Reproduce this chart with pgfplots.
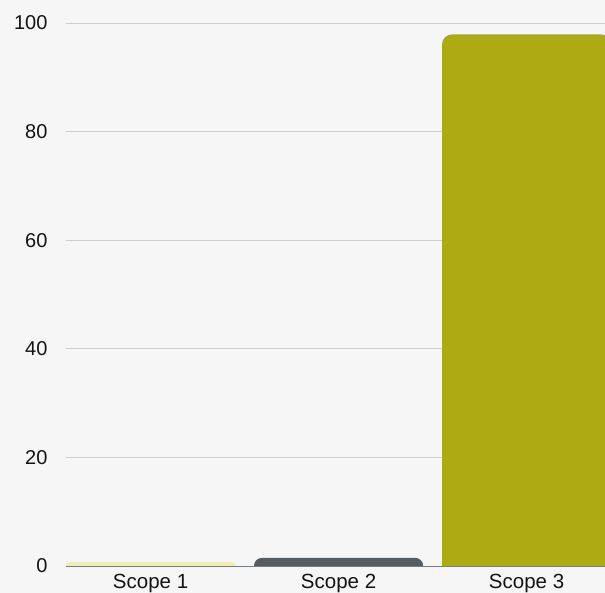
\documentclass[border=0pt]{standalone}
\usepackage{pgfplots}
\pgfplotsset{compat=1.18}
\usepackage{fontspec}
\setmainfont{Liberation Sans}
\definecolor{bgc}{HTML}{F6F6F6}
\definecolor{gridc}{HTML}{CDCDCD}
\definecolor{sone}{HTML}{EFEDB2}
\definecolor{stwo}{HTML}{555C62}
\definecolor{sthree}{HTML}{ADAA14}
\begin{document}
\begin{tikzpicture}
\fill[bgc] (-66pt,-27pt) rectangle (539pt,566pt);
\begin{axis}[
  at={(0,0)}, anchor=south west,
  scale only axis, width=539pt, height=543pt,
  xmin=-0.45, xmax=2.417, ymin=0, ymax=100,
  xtick={0,1,2}, xticklabels={Scope 1,Scope 2,Scope 3},
  ytick={20,40,60,80,100},
  extra y ticks={0},
  extra y tick style={grid style={color=stwo!80, line width=0.8pt}},
  ymajorgrids,
  grid style={color=gridc, line width=0.8pt},
  axis line style={draw=none},
  tick style={draw=none},
  ticklabel style={font=\fontsize{20}{24}\selectfont, text=black!92},
  /pgf/number format/assume math mode=true,
  yticklabel style={xshift=-15pt},
  xticklabel style={yshift=-4.5pt, font=\fontsize{20.5}{24}\selectfont},
  clip=true,
]
% bars: centre +/- 0.45, value on top; bottom runs below the axis and is clipped
\addplot[draw=none, fill=sone, rounded corners=3pt] coordinates {(-0.45,-5) (-0.45,0.7) (0.45,0.7) (0.45,-5)} -- cycle;
\addplot[draw=none, fill=stwo, rounded corners=8pt] coordinates {(0.55,-5) (0.55,1.5) (1.45,1.5) (1.45,-5)} -- cycle;
\addplot[draw=none, fill=sthree, rounded corners=10pt] coordinates {(1.55,-5) (1.55,97.9) (2.45,97.9) (2.45,-5)} -- cycle;
\end{axis}
\pgfresetboundingbox
\useasboundingbox (-66pt,-27pt) rectangle (539pt,566pt);
\end{tikzpicture}
\end{document}
